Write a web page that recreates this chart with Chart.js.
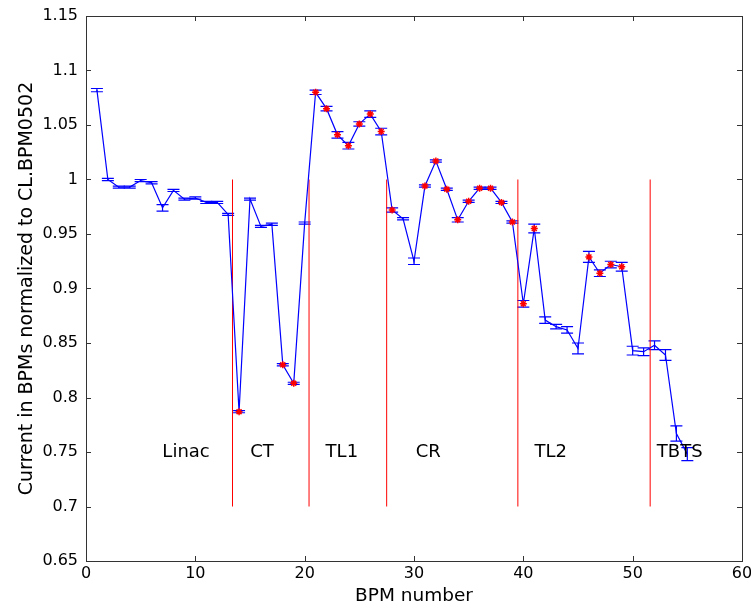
<!DOCTYPE html>
<html>
<head>
<meta charset="utf-8">
<title>BPM current</title>
<script src="https://cdn.jsdelivr.net/npm/chart.js@4.4.1/dist/chart.umd.min.js"></script>
<style>
  html, body { margin: 0; padding: 0; background: #fff; }
  #wrap { width: 751px; height: 608px; }
</style>
</head>
<body>
<div id="wrap"><canvas id="bpmChart" width="751" height="608"></canvas></div>
<script>
// BPM numbers along the line
const bpm = [1, 2, 3, 4, 5, 6, 7, 8, 9, 10, 11, 12, 13, 14, 15, 16, 17, 18, 19, 20,
  21, 22, 23, 24, 25, 26, 27, 28, 29, 30, 31, 32, 33, 34, 35, 36, 37, 38, 39, 40,
  41, 42, 43, 44, 45, 46, 47, 48, 49, 50, 51, 52, 53, 54, 55];

// normalized current per BPM
const current = [1.082, 1.000, 0.993, 0.993, 0.999, 0.997, 0.974, 0.990, 0.982, 0.983,
  0.979, 0.979, 0.968, 0.787, 0.982, 0.957, 0.959, 0.830, 0.813, 0.960,
  1.080, 1.065, 1.041, 1.031, 1.051, 1.060, 1.044, 0.972, 0.964, 0.925,
  0.994, 1.017, 0.991, 0.963, 0.980, 0.992, 0.992, 0.979, 0.961, 0.886,
  0.955, 0.871, 0.865, 0.862, 0.845, 0.929, 0.914, 0.922, 0.920, 0.843,
  0.842, 0.848, 0.839, 0.767, 0.748];

// half-height of error bars
const errors = [0.0015, 0.001, 0.001, 0.001, 0.001, 0.001, 0.003, 0.001, 0.001, 0.001,
  0.001, 0.001, 0.001, 0.001, 0.001, 0.001, 0.001, 0.001, 0.001, 0.001,
  0.002, 0.002, 0.003, 0.003, 0.002, 0.003, 0.003, 0.002, 0.001, 0.003,
  0.001, 0.001, 0.001, 0.002, 0.001, 0.001, 0.001, 0.001, 0.001, 0.003,
  0.004, 0.003, 0.002, 0.003, 0.005, 0.005, 0.003, 0.003, 0.004, 0.004,
  0.0035, 0.004, 0.005, 0.007, 0.006];

// BPMs marked with a red star
const marked = [14, 18, 19, 21, 22, 23, 24, 25, 26, 27, 28, 31, 32, 33, 34, 35, 36, 37,
  38, 39, 40, 41, 46, 47, 48, 49];

// section boundaries and names
const sectionEdges = [13.4, 20.4, 27.5, 39.5, 51.6];
const sectionEdgeRange = [0.70, 1.00];
const sectionNames = ['Linac', 'CT', 'TL1', 'CR', 'TL2', 'TBTS'];
const sectionLabelX = [9.15, 16.1, 23.4, 31.3, 42.5, 54.3];
const sectionLabelY = 0.75;

const yTicks = [0.65, 0.7, 0.75, 0.8, 0.85, 0.9, 0.95, 1, 1.05, 1.1, 1.15];
const xTicks = [0, 10, 20, 30, 40, 50, 60];

const FONT = '"DejaVu Sans", Verdana, sans-serif';

// error bars drawn under the line
const errorBarPlugin = {
  id: 'errorBars',
  beforeDatasetsDraw(chart) {
    const { ctx, scales: { x, y } } = chart;
    const cap = 6;
    ctx.save();
    ctx.strokeStyle = '#0000ff';
    ctx.lineWidth = 1.2;
    bpm.forEach((b, i) => {
      const px = x.getPixelForValue(b);
      const top = y.getPixelForValue(current[i] + errors[i]);
      const bot = y.getPixelForValue(current[i] - errors[i]);
      ctx.beginPath();
      ctx.moveTo(px, top); ctx.lineTo(px, bot);
      ctx.moveTo(px - cap, top); ctx.lineTo(px + cap, top);
      ctx.moveTo(px - cap, bot); ctx.lineTo(px + cap, bot);
      ctx.stroke();
    });
    ctx.restore();
  }
};

// matlab style box with inward ticks, plus section names
const boxPlugin = {
  id: 'box',
  afterDraw(chart) {
    const { ctx, chartArea: a, scales: { x, y } } = chart;
    const len = 5;
    ctx.save();
    ctx.strokeStyle = '#333';
    ctx.lineWidth = 1;
    ctx.strokeRect(a.left + 0.5, a.top + 0.5, a.right - a.left, a.bottom - a.top);
    ctx.beginPath();
    xTicks.forEach(v => {
      const px = Math.round(x.getPixelForValue(v)) + 0.5;
      ctx.moveTo(px, a.bottom); ctx.lineTo(px, a.bottom - len);
      ctx.moveTo(px, a.top); ctx.lineTo(px, a.top + len);
    });
    yTicks.forEach(v => {
      const py = Math.round(y.getPixelForValue(v)) + 0.5;
      ctx.moveTo(a.left, py); ctx.lineTo(a.left + len, py);
      ctx.moveTo(a.right, py); ctx.lineTo(a.right - len, py);
    });
    ctx.stroke();

    ctx.fillStyle = '#000';
    ctx.font = '18px ' + FONT;
    ctx.textAlign = 'center';
    ctx.textBaseline = 'middle';
    sectionNames.forEach((name, i) => {
      ctx.fillText(name, x.getPixelForValue(sectionLabelX[i]), y.getPixelForValue(sectionLabelY));
    });
    ctx.restore();
  }
};

const datasets = [
  {
    label: 'current',
    data: bpm.map((b, i) => ({ x: b, y: current[i] })),
    borderColor: '#0000ff',
    borderWidth: 1.2,
    pointRadius: 0,
    tension: 0,
    order: 2
  },
  {
    label: 'marked',
    data: marked.map(b => ({ x: b, y: current[bpm.indexOf(b)] })),
    showLine: false,
    pointStyle: 'star',
    pointRadius: 3.5,
    borderColor: '#ff0000',
    backgroundColor: '#ff0000',
    pointBorderWidth: 1.5,
    order: 1
  }
];

sectionEdges.forEach(e => {
  datasets.push({
    label: 'edge',
    data: sectionEdgeRange.map(v => ({ x: e, y: v })),
    borderColor: '#ff0000',
    borderWidth: 1,
    pointRadius: 0,
    order: 3
  });
});

new Chart(document.getElementById('bpmChart'), {
  type: 'line',
  data: { datasets },
  plugins: [errorBarPlugin, boxPlugin],
  options: {
    responsive: false,
    animation: false,
    devicePixelRatio: 1,
    layout: { padding: { left: 0, right: 9, top: 16, bottom: 0 } },
    plugins: {
      legend: { display: false },
      tooltip: { enabled: false }
    },
    scales: {
      x: {
        type: 'linear',
        min: 0,
        max: 60,
        afterBuildTicks: s => { s.ticks = xTicks.map(v => ({ value: v })); },
        afterFit: s => { s.height = 47; s.paddingLeft = 0; s.paddingRight = 0; },
        grid: { display: false, drawTicks: false },
        border: { display: false },
        ticks: {
          color: '#000',
          padding: 3,
          font: { family: FONT, size: 16 },
          maxRotation: 0
        },
        title: {
          display: true,
          text: 'BPM number',
          color: '#000',
          font: { family: FONT, size: 18.5 },
          padding: { top: 0, bottom: 1 }
        }
      },
      y: {
        type: 'linear',
        min: 0.65,
        max: 1.15,
        afterBuildTicks: s => { s.ticks = yTicks.map(v => ({ value: v })); },
        afterFit: s => { s.width = 86; s.paddingTop = 0; s.paddingBottom = 0; },
        grid: { display: false, drawTicks: false },
        border: { display: false },
        ticks: {
          color: '#000',
          padding: 8,
          font: { family: FONT, size: 16 },
          callback: v => String(Number(v.toFixed(2)))
        },
        title: {
          display: true,
          text: 'Current in BPMs normalized to CL.BPM0502',
          color: '#000',
          font: { family: FONT, size: 19 },
          padding: { top: 15.6, bottom: 0 }
        }
      }
    }
  }
});
</script>
</body>
</html>
